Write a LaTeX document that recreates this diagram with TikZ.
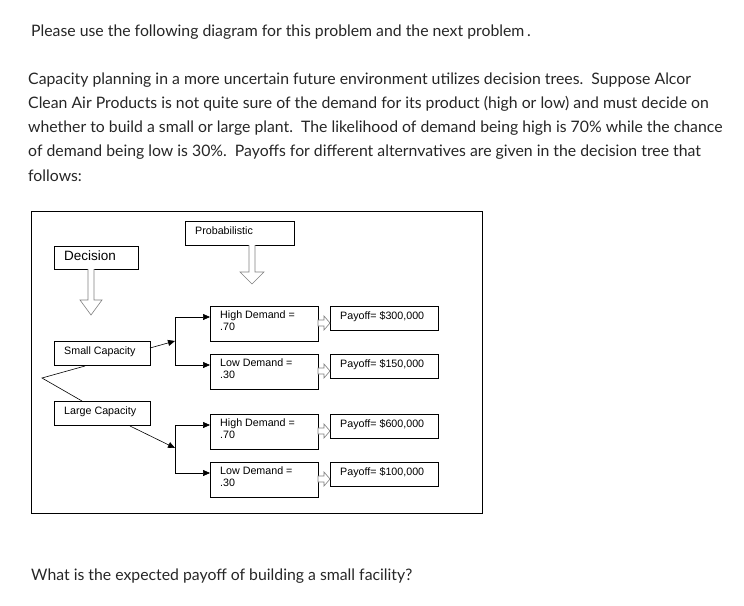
\documentclass[tikz,border=0pt]{standalone}
\usepackage{fontspec}
\setmainfont{Lato}
\newfontfamily\arialf{Liberation Sans}
\usetikzlibrary{arrows.meta}
\begin{document}
\begin{tikzpicture}[x=1pt,y=-1pt,
  txt/.style={anchor=west,inner sep=0,font=\fontsize{15.8}{18}\selectfont,text=black!85},
  box/.style={draw,line width=0.8pt,inner sep=0},
  bl/.style={font=\arialf\fontsize{10.7}{12}\selectfont,anchor=north west,align=left,inner sep=0},
  arr/.style={-{Triangle[length=7pt,width=6pt]},line width=0.6pt},
  hol/.style={draw=gray,fill=white,line width=0.6pt}]
\useasboundingbox (0,0) rectangle (744,605);
\node[txt] (t1) at (31,32) {Please use the following diagram for this problem and the next problem\,.};
\node[txt] (t2) at (28,80) {Capacity planning in a more uncertain future environment utilizes decision trees.\ \ Suppose Alcor};
\node[txt] (t3) at (28,104) {Clean Air Products is not quite sure of the demand for its product (high or low) and must decide on};
\node[txt] (t4) at (28,128) {whether to build a small or large plant.\ \ The likelihood of demand being high is 70\% while the chance};
\node[txt] (t5) at (28,152) {of demand being low is 30\%.\ \ Payoffs for different alternvatives are given in the decision tree that};
\node[txt] (t6) at (28,176) {follows:};
\node[txt] (t7) at (31,576) {What is the expected payoff of building a small facility?};
\draw[line width=0.8pt] (31,211) rectangle (482,513);
% boxes
\draw[box] (54,246) rectangle (138,269);
\node[bl,font=\arialf\fontsize{13.5}{15}\selectfont] (dec) at (64,251) {Decision};
\draw[box] (185,221) rectangle (294,245);
\node[bl] (prob) at (195,227) {Probabilistic};
\draw[box] (54,341) rectangle (150,365);
\node[bl] (sc) at (64,347) {Small Capacity};
\draw[box] (54,401) rectangle (150,425);
\node[bl] (lc) at (64,407) {Large Capacity};
% hollow arrows
\draw[hol] (88,269) -- (88,300) -- (80,300) -- (91,315) -- (102,300) -- (94,300) -- (94,269);
\draw[hol] (249,245) -- (249,272) -- (240,272) -- (252,284) -- (264,272) -- (255,272) -- (255,245);
\foreach \y/\a/\b [count=\i] in {306/High/70,354/Low/30,414/High/70,462/Low/30}{
  \draw[box] (210,\y) rectangle (318,\y+35);
  \node[bl] (d\i) at (220,\y+5) {\a\ Demand =\\.\b};
  \draw[box] (330,\y) rectangle (438,\y+24);
  \draw[hol] (318,\y+14) -- (324,\y+14) -- (324,\y+10) -- (330,\y+17) -- (324,\y+24) -- (324,\y+20) -- (318,\y+20) -- cycle;
}
\node[bl] (p1) at (340,311) {Payoff= \$300,000};
\node[bl] (p2) at (340,359) {Payoff= \$150,000};
\node[bl] (p3) at (340,419) {Payoff= \$600,000};
\node[bl] (p4) at (340,467) {Payoff= \$100,000};
% tree lines
\draw[line width=0.6pt] (85,366) -- (42,378) -- (82,401);
\draw[arr] (150,348) -- (175,341);
\draw[arr] (130,426) -- (175,448);
\draw[line width=0.6pt] (175,317) -- (175,365);
\draw[line width=0.6pt] (175,425) -- (175,473);
\draw[arr] (175,317) -- (210,317);
\draw[arr] (175,365) -- (210,365);
\draw[arr] (175,425) -- (210,425);
\draw[arr] (175,473) -- (210,473);
\end{tikzpicture}
\end{document}
